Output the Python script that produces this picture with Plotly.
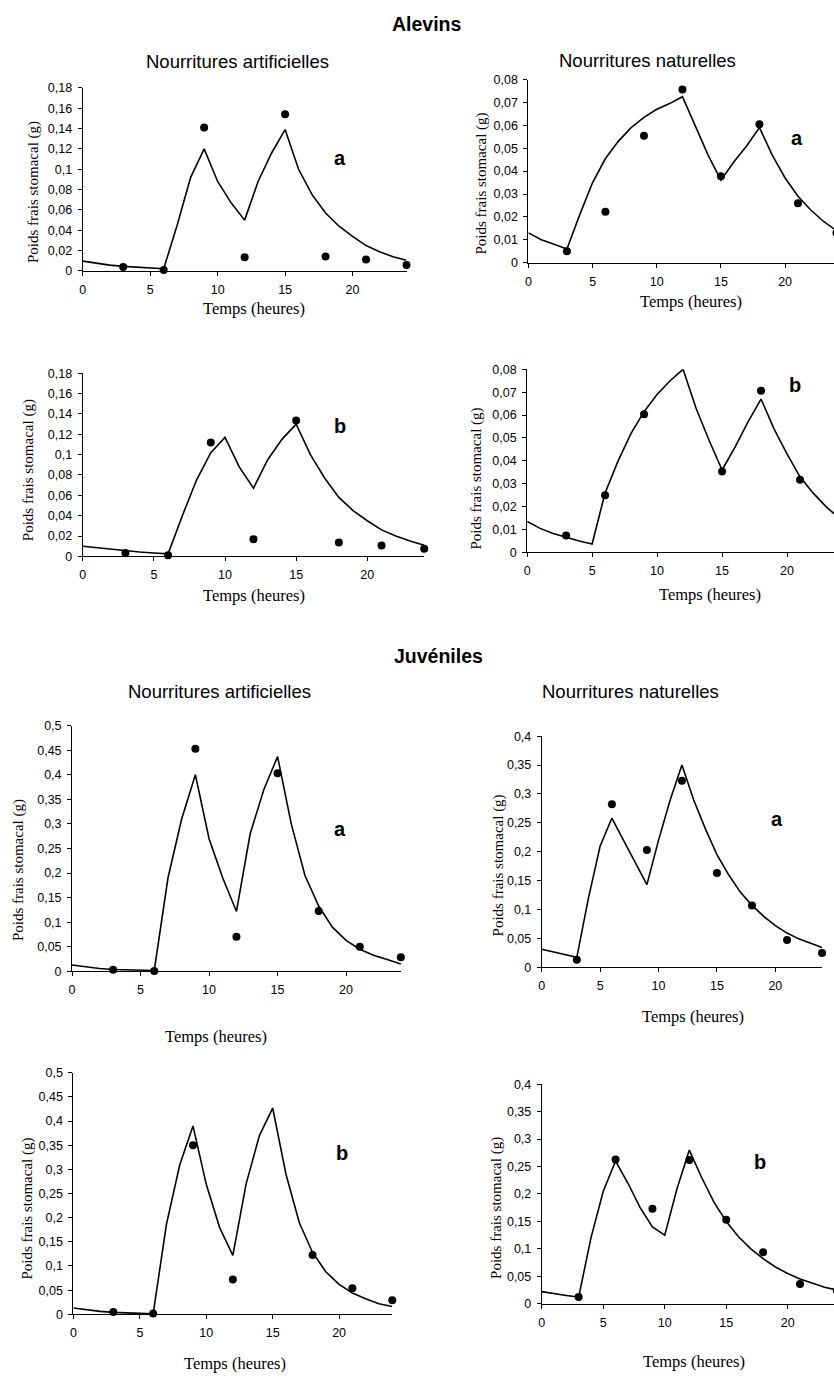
import plotly.graph_objects as go

# ---------------- data ----------------
hours = list(range(25))
obs_hours = [3, 6, 9, 12, 15, 18, 21, 24]

# Alevins - Nourritures artificielles (a, b)
alev_art_a_obs = [0.004, 0.001, 0.141, 0.0136, 0.154, 0.0143, 0.0114, 0.0058]
alev_art_a_fit = [0.0097, 0.0075, 0.0058, 0.0045, 0.0035, 0.0028, 0.0022, 0.045, 0.092, 0.120,
                  0.088, 0.067, 0.050, 0.088, 0.116, 0.139, 0.100, 0.075, 0.057, 0.044,
                  0.034, 0.025, 0.019, 0.014, 0.0105]
alev_art_b_obs = [0.0032, 0.001, 0.112, 0.0169, 0.1336, 0.0136, 0.0107, 0.0075]
alev_art_b_fit = [0.010, 0.0085, 0.0070, 0.0055, 0.0043, 0.0033, 0.0025, 0.040, 0.075, 0.102,
                  0.117, 0.088, 0.067, 0.095, 0.115, 0.130, 0.100, 0.077, 0.058, 0.045,
                  0.035, 0.026, 0.020, 0.015, 0.011]

# Alevins - Nourritures naturelles (a, b)
alev_nat_a_obs = [0.005, 0.0223, 0.0555, 0.0757, 0.0378, 0.0605, 0.026, 0.013]
alev_nat_a_fit = [0.013, 0.010, 0.008, 0.006, 0.021, 0.035, 0.0455, 0.053, 0.059, 0.0635,
                  0.067, 0.0695, 0.0725, 0.060, 0.047, 0.036, 0.044, 0.051, 0.059, 0.047,
                  0.037, 0.029, 0.023, 0.018, 0.014]
alev_nat_b_obs = [0.0074, 0.025, 0.0603, 0.0804, 0.0353, 0.0706, 0.0317, 0.0112]
alev_nat_b_fit = [0.0135, 0.0105, 0.0083, 0.0065, 0.0050, 0.0037, 0.026, 0.040, 0.052, 0.0615,
                  0.069, 0.075, 0.080, 0.063, 0.049, 0.036, 0.046, 0.057, 0.067, 0.054,
                  0.043, 0.033, 0.026, 0.020, 0.015]

# Juveniles - Nourritures artificielles (a, b)
juv_art_a_obs = [0.0034, 0.0007, 0.453, 0.0705, 0.403, 0.123, 0.050, 0.029]
juv_art_a_fit = [0.013, 0.009, 0.006, 0.004, 0.003, 0.002, 0.002, 0.19, 0.31, 0.40,
                 0.27, 0.19, 0.122, 0.28, 0.37, 0.437, 0.30, 0.195, 0.133, 0.09,
                 0.063, 0.045, 0.033, 0.024, 0.015]
juv_art_b_obs = [0.005, 0.0014, 0.35, 0.072, 0.501, 0.123, 0.054, 0.029]
juv_art_b_fit = [0.013, 0.009, 0.006, 0.004, 0.003, 0.002, 0.001, 0.186, 0.309, 0.39,
                 0.269, 0.18, 0.122, 0.27, 0.37, 0.427, 0.29, 0.19, 0.128, 0.088,
                 0.062, 0.044, 0.032, 0.022, 0.016]

# Juveniles - Nourritures naturelles (a, b)
juv_nat_a_obs = [0.013, 0.282, 0.203, 0.323, 0.163, 0.107, 0.047, 0.0246]
juv_nat_a_fit = [0.031, 0.026, 0.021, 0.017, 0.12, 0.21, 0.258, 0.22, 0.18, 0.143,
                 0.22, 0.29, 0.35, 0.29, 0.24, 0.195, 0.16, 0.13, 0.107, 0.088,
                 0.072, 0.059, 0.049, 0.041, 0.034]
juv_nat_b_obs = [0.012, 0.263, 0.173, 0.262, 0.153, 0.094, 0.036, 0.024]
juv_nat_b_fit = [0.022, 0.018, 0.015, 0.012, 0.12, 0.205, 0.26, 0.22, 0.175, 0.14,
                 0.125, 0.21, 0.28, 0.23, 0.185, 0.15, 0.122, 0.10, 0.082, 0.067,
                 0.055, 0.045, 0.037, 0.030, 0.025]

# tick labels
x_ticks = [0, 5, 10, 15, 20]
x_ticktext = ["0", "5", "10", "15", "20"]
y_ticks_018 = [0, 0.02, 0.04, 0.06, 0.08, 0.1, 0.12, 0.14, 0.16, 0.18]
y_text_018 = ["0", "0,02", "0,04", "0,06", "0,08", "0,1", "0,12", "0,14", "0,16", "0,18"]
y_ticks_008 = [0, 0.01, 0.02, 0.03, 0.04, 0.05, 0.06, 0.07, 0.08]
y_text_008 = ["0", "0,01", "0,02", "0,03", "0,04", "0,05", "0,06", "0,07", "0,08"]
y_ticks_05 = [0, 0.05, 0.1, 0.15, 0.2, 0.25, 0.3, 0.35, 0.4, 0.45, 0.5]
y_text_05 = ["0", "0,05", "0,1", "0,15", "0,2", "0,25", "0,3", "0,35", "0,4", "0,45", "0,5"]
y_ticks_04 = [0, 0.05, 0.1, 0.15, 0.2, 0.25, 0.3, 0.35, 0.4]
y_text_04 = ["0", "0,05", "0,1", "0,15", "0,2", "0,25", "0,3", "0,35", "0,4"]

section_titles = ["Alevins", "Juvéniles"]
food_titles = ["Nourritures artificielles", "Nourritures naturelles"]
x_title = "Temps (heures)"
y_title = "Poids frais stomacal (g)"

# ---------------- layout geometry (pixels) ----------------
# The figure is drawn slightly wider than the 834px window so that the right-hand
# panels run off the right edge, as in the cropped original.
W, H = 846, 1379

def px(x):
    return x / W

def py(y):
    return 1 - y / H

panels = [
    dict(fit=alev_art_a_fit, obs=alev_art_a_obs, yt=y_ticks_018, ytt=y_text_018, ymax=0.18,
         x0=80, ppu=13.54, yb=266.7, ytp=81.7, lab="a", labpos=(338, 153),
         xt=(252, 305), ytl=(30, 187)),
    dict(fit=alev_nat_a_fit, obs=alev_nat_a_obs, yt=y_ticks_008, ytt=y_text_008, ymax=0.08,
         x0=527.3, ppu=12.88, yb=258.3, ytp=73.3, lab="a", labpos=(797, 132),
         xt=(690, 298), ytl=(480, 178)),
    dict(fit=alev_art_b_fit, obs=alev_art_b_obs, yt=y_ticks_018, ytt=y_text_018, ymax=0.18,
         x0=80, ppu=14.28, yb=555, ytp=370, lab="b", labpos=(338, 423),
         xt=(252, 595), ytl=(25, 468)),
    dict(fit=alev_nat_b_fit, obs=alev_nat_b_obs, yt=y_ticks_008, ytt=y_text_008, ymax=0.08,
         x0=526, ppu=13.04, yb=551, ytp=366, lab="b", labpos=(795, 382),
         xt=(710, 594), ytl=(475, 476)),
    dict(fit=juv_art_a_fit, obs=juv_art_a_obs, yt=y_ticks_05, ytt=y_text_05, ymax=0.5,
         x0=69.3, ppu=13.75, yb=974.3, ytp=726, lab="a", labpos=(338, 830),
         xt=(214, 1040), ytl=(15, 872)),
    dict(fit=juv_nat_a_fit, obs=juv_nat_a_obs, yt=y_ticks_04, ytt=y_text_04, ymax=0.4,
         x0=540.7, ppu=11.72, yb=970, ytp=736.7, lab="a", labpos=(777, 820),
         xt=(692, 1020), ytl=(497, 867)),
    dict(fit=juv_art_b_fit, obs=juv_art_b_obs, yt=y_ticks_05, ytt=y_text_05, ymax=0.5,
         x0=70.7, ppu=13.33, yb=1320.7, ytp=1076.7, lab="b", labpos=(340, 1158),
         xt=(233, 1370), ytl=(25, 1214)),
    dict(fit=juv_nat_b_fit, obs=juv_nat_b_obs, yt=y_ticks_04, ytt=y_text_04, ymax=0.4,
         x0=540.7, ppu=12.34, yb=1310, ytp=1088.3, lab="b", labpos=(760, 1167),
         xt=(693, 1368), ytl=(495, 1213)),
]

TICKFONT = dict(family="Liberation Sans Narrow, Liberation Sans, Arial, sans-serif", size=12.5, color="black")
SERIF = "Liberation Serif, Times New Roman, serif"
SANS = "Liberation Sans, Arial, sans-serif"

fig = go.Figure()
annotations = []
layout_axes = {}

for i, p in enumerate(panels, start=1):
    xa = "x" if i == 1 else f"x{i}"
    ya = "y" if i == 1 else f"y{i}"
    x_end_px = p["x0"] + 24 * p["ppu"]
    fig.add_trace(go.Scatter(x=hours, y=p["fit"], mode="lines",
                             line=dict(color="black", width=1.6),
                             xaxis=xa, yaxis=ya, showlegend=False, cliponaxis=False))
    fig.add_trace(go.Scatter(x=obs_hours, y=p["obs"], mode="markers",
                             marker=dict(color="black", size=8),
                             xaxis=xa, yaxis=ya, showlegend=False, cliponaxis=False))
    xkey = "xaxis" if i == 1 else f"xaxis{i}"
    ykey = "yaxis" if i == 1 else f"yaxis{i}"
    layout_axes[xkey] = dict(domain=[px(p["x0"]), px(x_end_px)], range=[0, 24],
                             anchor=ya, showgrid=False, zeroline=False,
                             showline=True, linecolor="black", linewidth=1,
                             ticks="outside", ticklen=4, tickcolor="black", tickwidth=1,
                             tickvals=x_ticks, ticktext=x_ticktext, tickfont=TICKFONT,
                             ticklabelstandoff=3, fixedrange=True)
    layout_axes[ykey] = dict(domain=[py(p["yb"]), py(p["ytp"])], range=[0, p["ymax"]],
                             anchor=xa, showgrid=False, zeroline=False,
                             showline=True, linecolor="black", linewidth=1,
                             ticks="outside", ticklen=4, tickcolor="black", tickwidth=1,
                             tickvals=p["yt"], ticktext=p["ytt"], tickfont=TICKFONT,
                             ticklabelstandoff=3, fixedrange=True)
    annotations.append(dict(text=p["lab"], x=px(p["labpos"][0]), y=py(p["labpos"][1]),
                            xref="paper", yref="paper", showarrow=False,
                            xanchor="center", yanchor="middle",
                            font=dict(family=SANS, size=20, color="black", weight="bold")))
    annotations.append(dict(text=x_title, x=px(p["xt"][0]), y=py(p["xt"][1]),
                            xref="paper", yref="paper", showarrow=False,
                            xanchor="center", yanchor="middle",
                            font=dict(family=SERIF, size=16.5, color="black")))
    annotations.append(dict(text=y_title, x=px(p["ytl"][0]), y=py(p["ytl"][1]),
                            xref="paper", yref="paper", showarrow=False, textangle=-90,
                            xanchor="center", yanchor="middle",
                            font=dict(family=SERIF, size=15, color="black")))

for title, (cx, cy) in zip(section_titles, [(426, 17), (437, 656)]):
    annotations.append(dict(text=title, x=px(cx), y=py(cy), xref="paper", yref="paper",
                            showarrow=False, xanchor="center", yanchor="middle",
                            font=dict(family=SANS, size=19.5, color="black", weight="bold")))
food_pos = [(235, 55), (647, 54), (217, 692), (630, 692)]
for k, (cx, cy) in enumerate(food_pos):
    annotations.append(dict(text=food_titles[k % 2], x=px(cx), y=py(cy), xref="paper", yref="paper",
                            showarrow=False, xanchor="center", yanchor="middle",
                            font=dict(family=SANS, size=18.5, color="black")))

fig.update_layout(width=W, height=H, margin=dict(l=0, r=0, t=0, b=0),
                  paper_bgcolor="white", plot_bgcolor="white",
                  annotations=annotations, showlegend=False, **layout_axes)

fig.write_html("out.html", config={"displayModeBar": False},
               post_script="document.body.style.margin='0';document.body.style.padding='0';"
                           "document.body.style.overflow='hidden';"
                           "document.documentElement.style.overflow='hidden';")
